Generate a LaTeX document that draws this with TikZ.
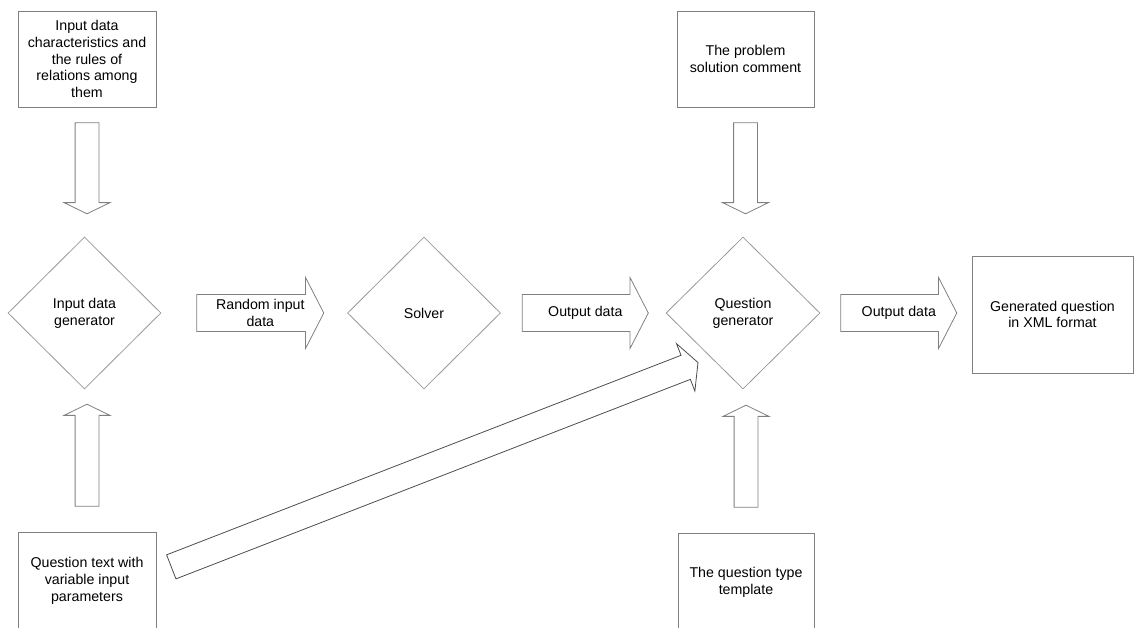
\documentclass[tikz,border=0pt]{standalone}
\usepackage{fontspec}
\setmainfont{Liberation Sans}
\usetikzlibrary{shapes.geometric, shapes.arrows, calc}

\begin{document}
\begin{tikzpicture}[
    x=1pt, y=-1pt,
    every node/.style={font=\fontsize{14.2}{16.8}\selectfont},
    box/.style={draw=black!50, line width=0.8pt, minimum width=138pt,
                minimum height=96pt, align=center, inner sep=2pt},
    decision/.style={diamond, draw=black!40, line width=0.8pt,
                     minimum width=153pt, minimum height=152pt,
                     align=center, inner sep=0pt},
    blockarrow/.style={single arrow, draw=black!50, line width=0.8pt,
                       inner xsep=0pt, anchor=tail},
    harrow/.style={blockarrow, inner ysep=18pt,
                   single arrow head extend=17pt, single arrow tip angle=125.5},
    varrow/.style={blockarrow, inner ysep=11.5pt,
                   single arrow head extend=11pt, single arrow tip angle=128},
    arrowtext/.style={align=center, inner sep=0pt}
  ]
  \useasboundingbox (0,0) rectangle (1135,628);
  \clip (0,0) rectangle (1135,628);

  % Top row: inputs to the generators
  \node[box] (chars) at (87,59)
    {Input data\\characteristics and\\the rules of\\relations among\\them};
  \node[box, minimum width=137pt] (comment) at (745.5,59)
    {The problem\\solution comment};

  % Middle row
  \node[decision] (gen) at (84.5,313) {Input data\\generator};
  \node[decision] (solver) at (424,313) {Solver};
  \node[decision, minimum width=154pt] (qgen) at (743,313) {Question\\generator};
  \node[box, minimum width=161pt, minimum height=117pt] (result) at (1052.5,314.5)
    {Generated question\\in XML format};

  % Bottom row
  \node[box, minimum height=98pt] (qtext) at (87,581)
    {Question text with\\variable input\\parameters};
  \node[box, minimum width=136pt, minimum height=98pt] (templ) at (746,582)
    {The question type\\template};

  % Block arrows between the stages
  \node[harrow, minimum height=127pt] (h1) at ([xshift=35pt]gen.east) {};
  \node[arrowtext] (t1) at ($(h1.tail)!0.5!(h1.tip)$) {Random input\\data};
  \node[harrow, minimum height=126pt] (h2) at ([xshift=21pt]solver.east) {};
  \node[arrowtext] (t2) at ($(h2.tail)!0.5!(h2.tip)$) {Output data};
  \node[harrow, minimum height=116pt] (h3) at ([xshift=20pt]qgen.east) {};
  \node[arrowtext] (t3) at ($(h3.tail)!0.5!(h3.tip)$) {Output data};

  % Vertical arrows
  \node[varrow, rotate=-90, minimum height=91pt] (v1) at ([yshift=-15pt]chars.south) {};
  \node[varrow, rotate=-90, minimum height=91pt] (v2) at ([yshift=-15pt]comment.south) {};
  \node[varrow, rotate=90, minimum height=102pt] (v3) at ([yshift=25pt]qtext.north) {};
  \node[varrow, rotate=90, minimum height=102pt] (v4) at ([yshift=25pt]templ.north) {};

  % Question text also goes to the question generator
  \node[blockarrow, draw=black!70, inner ysep=12.5pt,
        single arrow head extend=12.5pt, single arrow tip angle=125,
        rotate=21.2, minimum height=565pt] (d1)
        at ([xshift=14.5pt, yshift=14pt]qtext.east) {};
\end{tikzpicture}
\end{document}
